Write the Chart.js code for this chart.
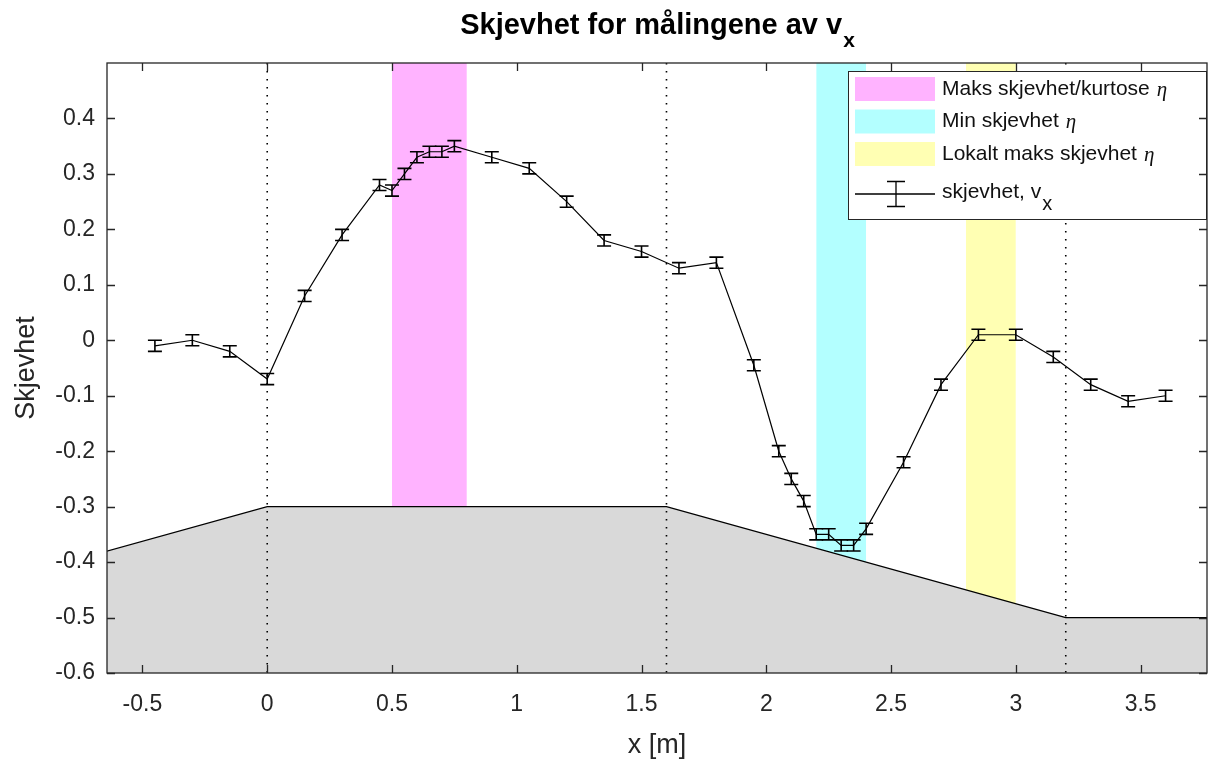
<!DOCTYPE html>
<html>
<head>
<meta charset="utf-8">
<title>Skjevhet for målingene av vx</title>
<script src="https://cdn.jsdelivr.net/npm/chart.js@4/dist/chart.umd.min.js"></script>
<style>
  html, body { margin: 0; padding: 0; background: #fff; }
</style>
</head>
<body>
<canvas id="skew" width="1209" height="760"></canvas>
<script>
// measuring positions along the flume [m]
const xPos = [-0.45, -0.3, -0.15, 0, 0.15, 0.3, 0.45, 0.5, 0.55, 0.6, 0.65, 0.7, 0.75,
  0.9, 1.05, 1.2, 1.35, 1.5, 1.65, 1.8, 1.95, 2.05, 2.1, 2.15, 2.2, 2.25, 2.3, 2.35, 2.4,
  2.55, 2.7, 2.85, 3.0, 3.15, 3.3, 3.45, 3.6];
// skewness of v_x at each position
const skew = [-0.01, 0.0, -0.02, -0.07, 0.08, 0.19, 0.28, 0.27, 0.30, 0.33, 0.34, 0.34, 0.35,
  0.33, 0.31, 0.25, 0.18, 0.16, 0.13, 0.14, -0.045, -0.20, -0.25, -0.29, -0.35, -0.35, -0.37, -0.37, -0.34,
  -0.22, -0.08, 0.01, 0.01, -0.03, -0.08, -0.11, -0.10];
const skewErr = xPos.map(() => 0.01);

// bottom profile
const bedX = [-0.8, 0, 1.6, 3.2, 4.0];
const bedY = [-0.4, -0.3, -0.3, -0.5, -0.5];

// shaded intervals
const bandNames = ['Maks skjevhet/kurtose', 'Min skjevhet', 'Lokalt maks skjevhet'];
const bandFrom = [0.5, 2.2, 2.8];
const bandTo = [0.8, 2.4, 3.0];
const bandColors = ['#ffb3ff', '#b3ffff', '#ffffb3'];

// section boundaries (dotted)
const sections = [0, 1.6, 3.2];

const xTicks = [-0.5, 0, 0.5, 1, 1.5, 2, 2.5, 3, 3.5];
const yTicks = [-0.6, -0.5, -0.4, -0.3, -0.2, -0.1, 0, 0.1, 0.2, 0.3, 0.4];
const xMin = -0.642, xMax = 3.766;
const yMin = -0.6, yMax = 0.5;

const axisColor = '#262626';
const sans = '"Liberation Sans", Arial, Helvetica, sans-serif';
const serif = '"Liberation Serif", "DejaVu Serif", serif';

const datasets = [];
datasets.push({
  label: 'skjevhet, vx',
  data: xPos.map((x, i) => ({ x: x, y: skew[i] })),
  borderColor: '#000', borderWidth: 1.2, pointRadius: 0, fill: false, order: 0
});
sections.forEach(s => datasets.push({
  data: [{ x: s, y: yMax }, { x: s, y: yMin }],
  borderColor: '#000', borderWidth: 1.6, borderDash: [1.6, 6.4], pointRadius: 0, fill: false, order: 1
}));
datasets.push({
  data: bedX.map((x, i) => ({ x: x, y: bedY[i] })),
  borderColor: '#000', borderWidth: 1.3, backgroundColor: '#d9d9d9',
  fill: { value: yMin }, pointRadius: 0, order: 2
});
bandFrom.forEach((a, i) => datasets.push({
  data: [{ x: a, y: yMax }, { x: bandTo[i], y: yMax }],
  borderColor: 'rgba(0,0,0,0)', borderWidth: 0, backgroundColor: bandColors[i],
  fill: { value: yMin }, pointRadius: 0, order: 3
}));

// vertical error bars on the skewness series
const errorBars = {
  id: 'errorBars',
  afterDatasetsDraw(chart) {
    const { ctx, scales: { x, y } } = chart;
    ctx.save();
    ctx.strokeStyle = '#000';
    ctx.lineWidth = 1.6;
    xPos.forEach((xv, i) => {
      const px = x.getPixelForValue(xv);
      const top = y.getPixelForValue(skew[i] + skewErr[i]);
      const bot = y.getPixelForValue(skew[i] - skewErr[i]);
      ctx.beginPath();
      ctx.moveTo(px, top); ctx.lineTo(px, bot);
      ctx.moveTo(px - 7, top); ctx.lineTo(px + 7, top);
      ctx.moveTo(px - 7, bot); ctx.lineTo(px + 7, bot);
      ctx.stroke();
    });
    ctx.restore();
  }
};

// text with a subscript tail, drawn centred or left aligned
function subText(ctx, main, sub, x, y, font, subFont, drop, center) {
  ctx.font = font;
  const w1 = ctx.measureText(main).width;
  ctx.font = subFont;
  const w2 = ctx.measureText(sub).width;
  const x0 = center ? x - (w1 + w2) / 2 : x;
  ctx.font = font;
  ctx.fillText(main, x0, y);
  ctx.font = subFont;
  ctx.fillText(sub, x0 + w1 + 1, y + drop);
}

// box, inward ticks, legend and title
const frame = {
  id: 'frame',
  afterDraw(chart) {
    const { ctx, chartArea: a, scales: { x, y } } = chart;
    ctx.save();

    // legend
    const lx = 848, lw = a.right - lx, ly = a.top + 8, lh = 149;
    ctx.fillStyle = '#fff';
    ctx.fillRect(lx, ly, lw, lh);
    ctx.strokeStyle = axisColor;
    ctx.lineWidth = 1;
    ctx.strokeRect(lx + 0.5, ly + 0.5, lw - 1, lh - 1);
    const rowY = [ly + 18, ly + 50.5, ly + 83];
    ctx.textBaseline = 'middle';
    bandNames.forEach((name, i) => {
      ctx.fillStyle = bandColors[i];
      ctx.fillRect(lx + 7, rowY[i] - 12, 80, 24);
      ctx.fillStyle = '#111';
      ctx.font = '21px ' + sans;
      ctx.fillText(name, lx + 94, rowY[i]);
      const w = ctx.measureText(name).width;
      ctx.font = 'italic 21px ' + serif;
      ctx.fillText('η', lx + 94 + w + 7, rowY[i] + 1);
    });
    const ey = ly + 123;
    ctx.strokeStyle = '#000';
    ctx.lineWidth = 1.3;
    ctx.beginPath();
    ctx.moveTo(lx + 7, ey); ctx.lineTo(lx + 87, ey);
    ctx.moveTo(lx + 48, ey - 12.5); ctx.lineTo(lx + 48, ey + 12.5);
    ctx.moveTo(lx + 39, ey - 12.5); ctx.lineTo(lx + 57, ey - 12.5);
    ctx.moveTo(lx + 39, ey + 12.5); ctx.lineTo(lx + 57, ey + 12.5);
    ctx.stroke();
    ctx.fillStyle = '#111';
    subText(ctx, 'skjevhet, v', 'x', lx + 94, ey - 2, '21px ' + sans, '20px ' + sans, 12, false);

    // inward ticks on all four sides
    ctx.strokeStyle = axisColor;
    ctx.lineWidth = 1.3;
    const tl = 8;
    ctx.beginPath();
    xTicks.forEach(v => {
      const px = Math.round(x.getPixelForValue(v)) + 0.5;
      ctx.moveTo(px, a.bottom); ctx.lineTo(px, a.bottom - tl);
      ctx.moveTo(px, a.top); ctx.lineTo(px, a.top + tl);
    });
    yTicks.forEach(v => {
      const py = Math.round(y.getPixelForValue(v)) + 0.5;
      ctx.moveTo(a.left, py); ctx.lineTo(a.left + tl, py);
      ctx.moveTo(a.right, py); ctx.lineTo(a.right - tl, py);
    });
    ctx.stroke();
    ctx.strokeRect(a.left, a.top, a.right - a.left, a.bottom - a.top);

    // title
    ctx.fillStyle = '#000';
    ctx.textBaseline = 'alphabetic';
    subText(ctx, 'Skjevhet for målingene av v', 'x', (a.left + a.right) / 2, 34,
      'bold 29px ' + sans, 'bold 21px ' + sans, 13, true);
    ctx.restore();
  }
};

new Chart(document.getElementById('skew'), {
  type: 'line',
  data: { datasets: datasets },
  plugins: [errorBars, frame],
  options: {
    responsive: false,
    animation: false,
    events: [],
    layout: { padding: { top: 63, right: 2, left: 0, bottom: 0 } },
    plugins: { legend: { display: false }, tooltip: { enabled: false }, title: { display: false } },
    elements: { line: { tension: 0 } },
    scales: {
      x: {
        type: 'linear', min: xMin, max: xMax,
        afterBuildTicks: s => { s.ticks = xTicks.map(v => ({ value: v })); },
        afterFit: s => { s.height = 87; },
        grid: { display: false, drawTicks: false },
        border: { display: false },
        ticks: {
          color: axisColor, padding: 18, maxRotation: 0,
          font: { family: sans, size: 23 },
          callback: v => String(Number(v.toFixed(1)))
        },
        title: {
          display: true, text: 'x [m]', color: axisColor,
          font: { family: sans, size: 27 }, padding: { top: 0, bottom: -2 }
        }
      },
      y: {
        type: 'linear', min: yMin, max: yMax,
        afterBuildTicks: s => { s.ticks = yTicks.map(v => ({ value: v })); },
        afterFit: s => { s.width = 107; },
        grid: { display: false, drawTicks: false },
        border: { display: false },
        ticks: {
          color: axisColor, padding: 12,
          font: { family: sans, size: 23 },
          callback: v => String(Number(v.toFixed(1)))
        },
        title: {
          display: true, text: 'Skjevhet', color: axisColor,
          font: { family: sans, size: 27 }, padding: { top: 10, bottom: 0 }
        }
      }
    }
  }
});
</script>
</body>
</html>
